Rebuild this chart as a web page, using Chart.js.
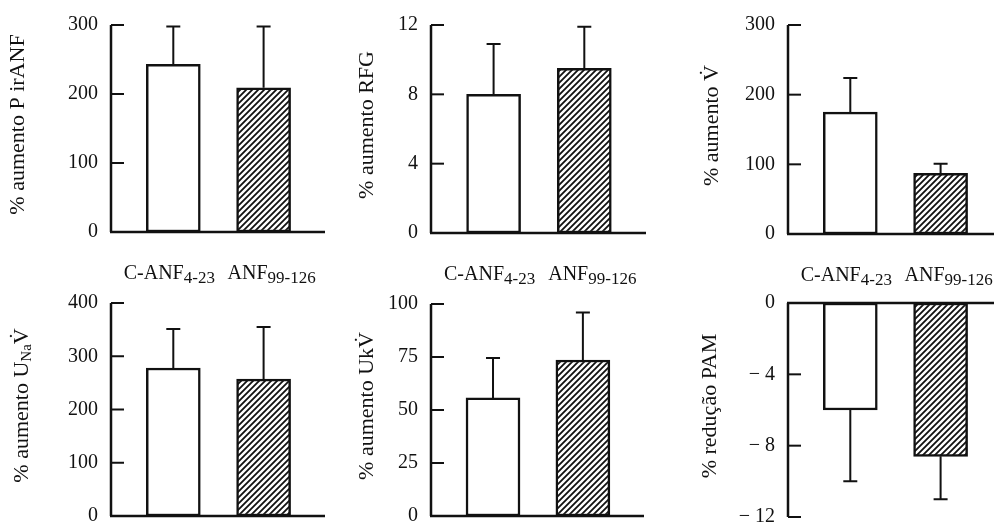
<!DOCTYPE html>
<html>
<head>
<meta charset="utf-8">
<script src="https://cdn.jsdelivr.net/npm/chart.js@4/dist/chart.umd.min.js"></script>
<style>
  html, body { margin: 0; padding: 0; background: #fff; width: 994px; height: 524px; overflow: hidden; }
  body { position: relative; }
  canvas { position: absolute; }
</style>
</head>
<body>
<canvas id="p1"></canvas>
<canvas id="p2"></canvas>
<canvas id="p3"></canvas>
<canvas id="p4"></canvas>
<canvas id="p5"></canvas>
<canvas id="p6"></canvas>
<script>
// grupos (nome + subscrito)
const categoryNames = ['C-ANF', 'ANF']
const categorySubs = ['4-23', '99-126']

// valores (média e erro)
const pirANF = [243, 209]
const pirANFErr = [55, 89]
const pirANFTicks = [0, 100, 200, 300]

const rfg = [8.0, 9.5]
const rfgErr = [2.9, 2.4]
const rfgTicks = [0, 4, 8, 12]

const volume = [175, 87]
const volumeErr = [49, 14]
const volumeTicks = [0, 100, 200, 300]

const unaV = [278, 257]
const unaVErr = [73, 98]
const unaVTicks = [0, 100, 200, 300, 400]

const ukV = [55.7, 73.6]
const ukVErr = [18.8, 22.4]
const ukVTicks = [0, 25, 50, 75, 100]

const pam = [-6.0, -8.6]
const pamErr = [4.0, 2.4]
const pamTicks = [-12, -8, -4, 0]

const ink = '#111'
const serif = "'Liberation Serif', 'Times New Roman', serif"
const labelShift = [-4, 8]

// padrão hachurado ////
function makeHatch() {
  const s = 6
  const c = document.createElement('canvas')
  c.width = s; c.height = s
  const g = c.getContext('2d')
  g.fillStyle = '#fff'
  g.fillRect(0, 0, s, s)
  g.strokeStyle = ink
  g.lineWidth = 1.8
  g.beginPath()
  g.moveTo(0, s); g.lineTo(s, 0)
  g.moveTo(-1, 1); g.lineTo(1, -1)
  g.moveTo(s - 1, s + 1); g.lineTo(s + 1, s - 1)
  g.stroke()
  return g.createPattern(c, 'repeat')
}
const hatch = makeHatch()

function drawParts(ctx, parts, cx, baseY, mainSize, subSize, subDrop) {
  // parts: [texto, subscrito?]
  const fontOf = p => (p[1] ? subSize : mainSize) + 'px ' + serif
  const widths = parts.map(p => {
    ctx.font = fontOf(p)
    return ctx.measureText(p[0]).width
  })
  let x = cx - widths.reduce((a, b) => a + b, 0) / 2
  parts.forEach((p, i) => {
    ctx.font = fontOf(p)
    ctx.fillText(p[0], x, baseY + (p[1] ? subDrop : 0))
    x += widths[i]
  })
}

function panelPlugin(cfg) {
  return {
    id: 'panel',
    afterDatasetsDraw(chart) {
      const { ctx, chartArea: a, scales: { x, y } } = chart
      ctx.save()
      ctx.strokeStyle = ink
      ctx.fillStyle = ink

      // barras de erro
      ctx.lineWidth = 2
      chart.getDatasetMeta(0).data.forEach((bar, i) => {
        const v = cfg.values[i]
        const end = y.getPixelForValue(v + Math.sign(v) * cfg.errors[i])
        ctx.beginPath()
        ctx.moveTo(bar.x, bar.y); ctx.lineTo(bar.x, end)
        ctx.moveTo(bar.x - 7, end); ctx.lineTo(bar.x + 7, end)
        ctx.stroke()
      })

      // eixos
      ctx.lineWidth = 2.5
      const y0 = y.getPixelForValue(0)
      ctx.beginPath()
      ctx.moveTo(a.left, a.top); ctx.lineTo(a.left, a.bottom)
      ctx.moveTo(a.left - 1, y0); ctx.lineTo(a.right, y0)
      ctx.stroke()

      // marcas para dentro
      ctx.lineWidth = 2
      y.ticks.forEach(t => {
        const py = y.getPixelForValue(t.value)
        ctx.beginPath(); ctx.moveTo(a.left, py); ctx.lineTo(a.left + 13, py); ctx.stroke()
      })

      // rótulos dos grupos
      if (cfg.showLabels) {
        ctx.textBaseline = 'alphabetic'
        ctx.textAlign = 'left'
        categoryNames.forEach((n, i) => {
          drawParts(ctx, [[n, false], [categorySubs[i], true]],
            x.getPixelForValue(i + 1) + labelShift[i], a.bottom + 47, 20, 17, 4)
        })
      }

      // título do eixo y
      ctx.translate(a.left - cfg.titleOff, (a.top + a.bottom) / 2 - 4)
      ctx.rotate(-Math.PI / 2)
      ctx.textBaseline = 'middle'
      ctx.textAlign = 'left'
      drawParts(ctx, cfg.title, 0, 0, 22, 15, 5)
      ctx.restore()
    }
  }
}

function makePanel(cfg) {
  const cv = document.getElementById(cfg.id)
  cv.width = cfg.w
  cv.height = cfg.h
  cv.style.left = cfg.left + 'px'
  cv.style.top = cfg.top + 'px'
  const [aLeft, aRight, aTop, aBottom] = cfg.area
  return new Chart(cv, {
    type: 'bar',
    data: {
      datasets: [{
        data: cfg.values.map((v, i) => ({ x: i + 1, y: v })),
        backgroundColor: ['#fff', hatch],
        borderColor: ink,
        borderWidth: 2.5,
        borderSkipped: false,
        barThickness: 54
      }]
    },
    options: {
      responsive: false,
      animation: false,
      layout: { padding: { left: 0, top: aTop, right: cfg.w - aRight, bottom: cfg.h - aBottom } },
      plugins: { legend: { display: false }, tooltip: { enabled: false } },
      scales: {
        x: { type: 'linear', display: false, offset: false, min: 0.31, max: 2.68 },
        y: {
          min: cfg.ticks[0],
          max: cfg.ticks[cfg.ticks.length - 1],
          grid: { display: false, drawTicks: false },
          border: { display: false },
          afterFit: s => { s.width = aLeft },
          afterBuildTicks: s => { s.ticks = cfg.ticks.map(v => ({ value: v })) },
          ticks: {
            padding: 13,
            color: ink,
            font: { family: serif, size: 20 },
            callback: v => v < 0 ? '\u2212 ' + Math.abs(v) : String(v)
          }
        }
      }
    },
    plugins: [panelPlugin(cfg)]
  })
}

makePanel({ id: 'p1', left: 0, top: 0, w: 330, h: 290, area: [111, 325, 20, 232],
  values: pirANF, errors: pirANFErr, ticks: pirANFTicks, showLabels: true, titleOff: 93,
  title: [['% aumento P irANF', false]] })

makePanel({ id: 'p2', left: 330, top: 0, w: 330, h: 290, area: [101, 316, 20, 233],
  values: rfg, errors: rfgErr, ticks: rfgTicks, showLabels: true, titleOff: 64,
  title: [['% aumento RFG', false]] })

makePanel({ id: 'p3', left: 660, top: 0, w: 345, h: 290, area: [128, 342, 20, 234],
  values: volume, errors: volumeErr, ticks: volumeTicks, showLabels: true, titleOff: 76,
  title: [['% aumento V\u0307', false]] })

makePanel({ id: 'p4', left: 0, top: 262, w: 330, h: 290, area: [111, 325, 41, 254],
  values: unaV, errors: unaVErr, ticks: unaVTicks, showLabels: false, titleOff: 89,
  title: [['% aumento U', false], ['Na', true], ['V\u0307', false]] })

makePanel({ id: 'p5', left: 330, top: 262, w: 330, h: 290, area: [101, 314, 42, 254],
  values: ukV, errors: ukVErr, ticks: ukVTicks, showLabels: false, titleOff: 64,
  title: [['% aumento UkV\u0307', false]] })

makePanel({ id: 'p6', left: 660, top: 262, w: 345, h: 290, area: [128, 342, 41, 255],
  values: pam, errors: pamErr, ticks: pamTicks, showLabels: false, titleOff: 78,
  title: [['% redução PAM', false]] })
</script>
</body>
</html>
